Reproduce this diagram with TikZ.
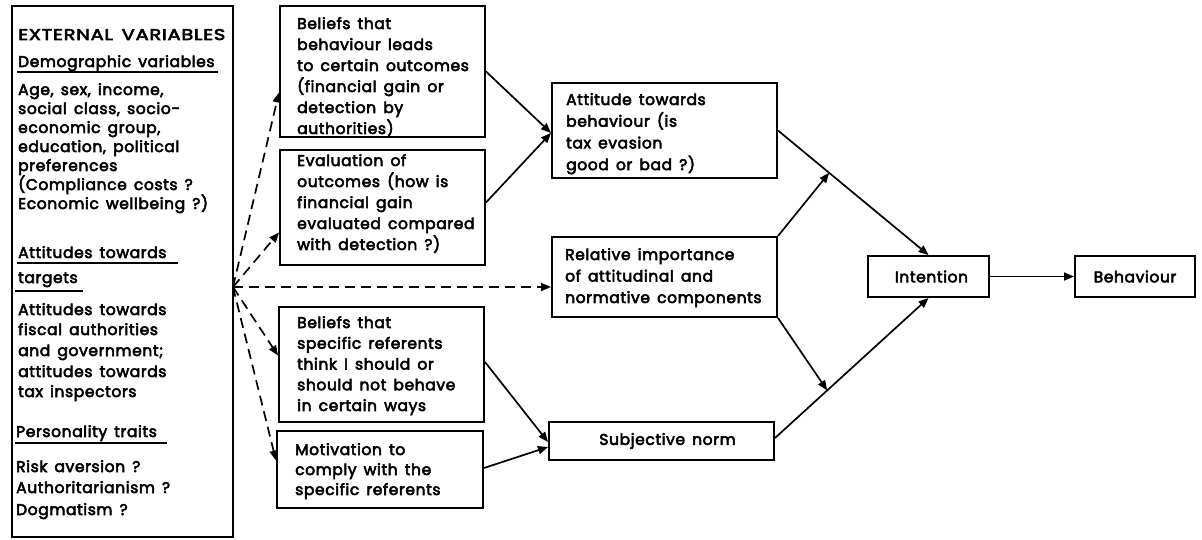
\documentclass[tikz,border=0pt]{standalone}
\usepackage{fontspec}
\setmainfont{Poppins}[LetterSpace=4, WordSpace=1.5, FakeBold=3.5]
\usetikzlibrary{arrows.meta,calc}
\begin{document}
\begin{tikzpicture}[x=1pt,y=-1pt,
  box/.style={draw, line width=2pt, inner sep=0pt, anchor=center},
  bt/.style={anchor=base west, inner sep=0pt, font=\fontsize{15.5}{21}\selectfont},
  lt/.style={anchor=base west, inner sep=0pt, font=\fontsize{15.5}{19}\selectfont},
  ul/.style={line width=2pt},
  arr/.style={line width=1.7pt, -{Triangle[length=10pt,width=8pt]}},
  darr/.style={arr, dash pattern=on 10pt off 6pt},
]
\useasboundingbox (0,0) rectangle (1202,540);
% external variables box
\node[box, minimum width=221pt, minimum height=531pt] (ext) at (122.5,271.5) {};
\node[lt] (e1) at (18,40) {\scalebox{1.25}[1]{EXTERNAL VARIABLES}};
\node[lt] (e2) at (18,67) {Demographic variables};
\node[lt] (e3) at (18,95) {Age, sex, income,};
\node[lt] (e4) at (18,114) {social class, socio-};
\node[lt] (e5) at (18,133) {economic group,};
\node[lt] (e6) at (18,152) {education, political};
\node[lt] (e7) at (18,171) {preferences};
\node[lt] (e8) at (18,190) {(Compliance costs ?};
\node[lt] (e9) at (18,209) {Economic wellbeing ?)};
\node[lt] (e10) at (18,258) {Attitudes towards};
\node[lt] (e11) at (18,283) {targets};
\node[lt] (e12) at (18,315) {Attitudes towards};
\node[lt] (e13) at (18,335) {fiscal authorities};
\node[lt] (e14) at (18,356) {and government;};
\node[lt] (e15) at (18,377) {attitudes towards};
\node[lt] (e16) at (18,397) {tax inspectors};
\node[lt] (e17) at (16,437) {Personality traits};
\node[lt] (e18) at (16,472) {Risk aversion ?};
\node[lt] (e19) at (16,493) {Authoritarianism ?};
\node[lt] (e20) at (16,515) {Dogmatism ?};
\draw[ul] (17,72.5) -- (218,72.5);
\draw[ul] (17,263) -- (178,263);
\draw[ul] (15,291) -- (83,291);
\draw[ul] (15,443) -- (167,443);
% middle column
\node[box, minimum width=205pt, minimum height=131pt] (b1) at (382.5,71.5) {};
\node[bt] (b1t) at (297,29) {\begin{tabular}[t]{@{}l@{}}Beliefs that\\behaviour leads\\to certain outcomes\\(financial gain or\\detection by\\authorities)\end{tabular}};
\node[box, minimum width=205pt, minimum height=115pt] (b2) at (382.5,207.5) {};
\node[bt] (b2t) at (297,166) {\begin{tabular}[t]{@{}l@{}}Evaluation of\\outcomes (how is\\financial gain\\evaluated compared\\with detection ?)\end{tabular}};
\node[box, minimum width=205pt, minimum height=115pt] (b3) at (381.5,364.5) {};
\node[bt, font=\fontsize{15.5}{20.75}\selectfont] (b3t) at (297,328) {\begin{tabular}[t]{@{}l@{}}Beliefs that\\specific referents\\think I should or\\should not behave\\in certain ways\end{tabular}};
\node[box, minimum width=206pt, minimum height=77pt] (b4) at (380,469.5) {};
\node[bt, font=\fontsize{15.5}{20}\selectfont] (b4t) at (295,455) {\begin{tabular}[t]{@{}l@{}}Motivation to\\comply with the\\specific referents\end{tabular}};
% right column
\node[box, minimum width=225pt, minimum height=95pt] (att) at (664.5,130.5) {};
\node[bt, font=\fontsize{15.5}{21.7}\selectfont] (attt) at (566,105) {\begin{tabular}[t]{@{}l@{}}Attitude towards\\behaviour (is\\tax evasion\\good or bad ?)\end{tabular}};
\node[box, minimum width=225pt, minimum height=80pt] (rel) at (664.5,277) {};
\node[bt, font=\fontsize{15.5}{21.5}\selectfont] (relt) at (565,260) {\begin{tabular}[t]{@{}l@{}}Relative importance\\of attitudinal and\\normative components\end{tabular}};
\node[box, minimum width=225pt, minimum height=38pt, font=\fontsize{15.5}{21}\selectfont] (subj) at (661.5,441) {\hspace*{12pt}Subjective norm};
\node[box, minimum width=121pt, minimum height=41pt, font=\fontsize{15.5}{21}\selectfont] (int) at (928.5,276.5) {\hspace*{6pt}Intention};
\node[box, minimum width=120pt, minimum height=41pt, font=\fontsize{15.5}{21}\selectfont] (beh) at (1135,276.5) {Behaviour};
% dashed arrows
\coordinate (src) at (233,287);
\draw[darr] (src) -- ([yshift=-21pt]b1.west);
\draw[darr] (src) -- ([yshift=-25pt]b2.west);
\draw[darr] (src) -- ([yshift=-10pt]rel.west);
\draw[darr] (src) -- ([yshift=9pt]b3.west);
\draw[darr] (src) -- ([yshift=9pt]b4.west);
% solid arrows
\draw[arr] (b1.east) -- ([yshift=-2.5pt]att.west);
\draw[arr] ([yshift=5pt]b2.east) -- ([yshift=-2.5pt]att.west);
\draw[arr] ([yshift=2.5pt]b3.east) -- ([yshift=-1pt]subj.west);
\draw[arr] ([yshift=1.5pt]b4.east) -- ([yshift=-6pt]subj.west);
\draw[arr] (att.east) -- (int.north);
\draw[arr] ([yshift=3pt]subj.east) -- (int.south);
\coordinate (j1) at ($(att.east)!0.34!(int.north)$);
\coordinate (j2) at ($([yshift=3pt]subj.east)!0.34!(int.south)$);
\draw[arr] (rel.north east) -- (j1);
\draw[arr] (rel.south east) -- (j2);
\draw[arr] (int.east) -- (beh.west);
\end{tikzpicture}
\end{document}
